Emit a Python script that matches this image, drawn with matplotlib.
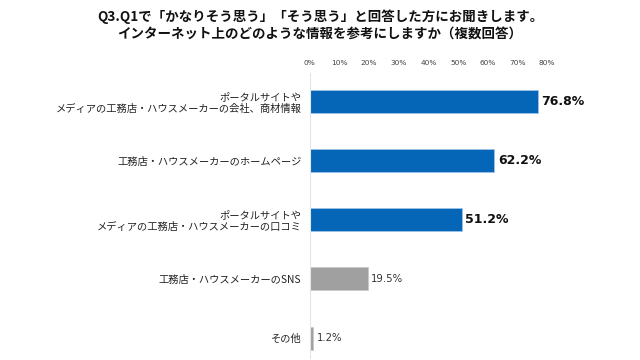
import matplotlib
matplotlib.use("Agg")
import matplotlib.pyplot as plt

plt.rcParams['font.family'] = ['Noto Sans CJK JP', 'DejaVu Sans']

categories = [
    "ポータルサイトや\nメディアの工務店・ハウスメーカーの会社、商材情報",
    "工務店・ハウスメーカーのホームページ",
    "ポータルサイトや\nメディアの工務店・ハウスメーカーの口コミ",
    "工務店・ハウスメーカーのSNS",
    "その他",
]
values = [76.8, 62.2, 51.2, 19.5, 1.2]
highlight = [True, True, True, False, False]
xticks = [0, 10, 20, 30, 40, 50, 60, 70, 80]
title = "Q3.Q1で「かなりそう思う」「そう思う」と回答した方にお聞きします。\nインターネット上のどのような情報を参考にしますか（複数回答）"

fig = plt.figure(figsize=(6.4, 3.6), dpi=100)
ax = fig.add_axes([0.484, 0.006, 0.371, 0.79])

blue = "#0565B6"
gray = "#A0A0A0"
pos = list(range(len(values)))
colors = [blue if h else gray for h in highlight]
edges = ["#9CC3E6" if h else "#C8C8C8" for h in highlight]
ax.barh(pos, values, height=0.39, color=colors, edgecolor=edges, linewidth=0.6)

for p, v, h in zip(pos, values, highlight):
    if h:
        ax.text(v + 1.2, p, f"{v:.1f}%", va="center", ha="left", fontsize=9,
                fontweight="bold", color="#111111", family="DejaVu Sans")
    else:
        ax.text(v + 1.2, p, f"{v:.1f}%", va="center", ha="left", fontsize=7.3,
                color="#333333", family="DejaVu Sans")

ax.set_xlim(0, 80)
ax.set_ylim(4.335, -0.475)
ax.set_yticks(pos)
ax.set_yticklabels(categories, fontsize=7.4, color="#222222", linespacing=1.15)
ax.set_xticks(xticks)
ax.set_xticklabels([f"{t}%" for t in xticks], fontsize=5.3, color="#444444",
                   family="DejaVu Sans")
ax.xaxis.tick_top()
ax.tick_params(axis="both", length=0)
ax.tick_params(axis="x", pad=5)
ax.tick_params(axis="y", pad=6)
for s in ["top", "right", "bottom"]:
    ax.spines[s].set_visible(False)
ax.spines["left"].set_color("#E6E6E6")
ax.spines["left"].set_linewidth(0.8)

fig.text(0.5, 0.975, title, ha="center", va="top", fontsize=9.7,
         fontweight="bold", color="#111111", linespacing=1.3)

fig.savefig("out.png", dpi=100, facecolor="white")
